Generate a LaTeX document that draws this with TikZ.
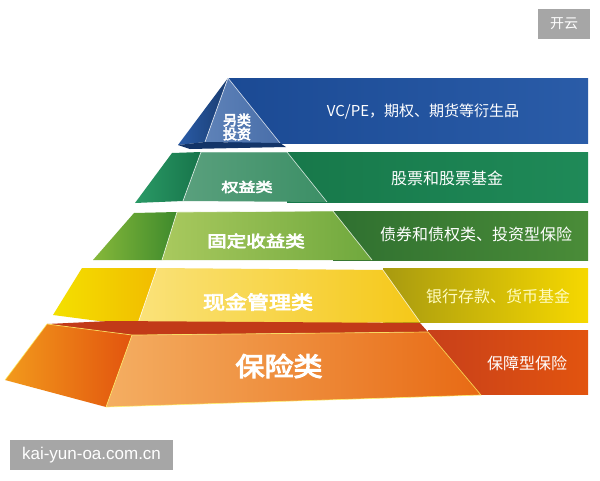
\documentclass[tikz,border=0pt]{standalone}
\usepackage{fontspec}
\newfontfamily\cjk{Noto Sans CJK SC}
\newfontfamily\cjkb[FakeBold=4]{Noto Sans CJK SC}
\newfontfamily\wmfont{Liberation Sans}
\usetikzlibrary{calc}
\definecolor{bluebandA}{HTML}{1B4A94}
\definecolor{bluebandB}{HTML}{2A5CA8}
\definecolor{bluefront}{HTML}{5E82B8}
\definecolor{blueleft}{HTML}{2456A0}
\definecolor{dgband}{HTML}{17784A}
\definecolor{dgbandB}{HTML}{1F8A58}
\definecolor{dgfront}{HTML}{3C8F66}
\definecolor{dgleftA}{HTML}{2A9A66}
\definecolor{dgleftB}{HTML}{17744A}
\definecolor{lgband}{HTML}{4A8C38}
\definecolor{lgbandB}{HTML}{2F7030}
\definecolor{lgfrontA}{HTML}{A9C95E}
\definecolor{lgfrontB}{HTML}{6FA83D}
\definecolor{lgleftA}{HTML}{86B83A}
\definecolor{lgleftB}{HTML}{3E8A2C}
\definecolor{ybandA}{HTML}{A89A10}
\definecolor{ybandB}{HTML}{F6D800}
\definecolor{yfrontA}{HTML}{FAE27A}
\definecolor{yfrontB}{HTML}{F5C818}
\definecolor{yleftA}{HTML}{F3E000}
\definecolor{yleftB}{HTML}{F2BC00}
\definecolor{oband}{HTML}{E2540F}
\definecolor{obandB}{HTML}{C8401A}
\definecolor{ofrontA}{HTML}{F4AE62}
\definecolor{ofrontB}{HTML}{E86A14}
\definecolor{oleftA}{HTML}{F29A1C}
\definecolor{oleftB}{HTML}{E2540E}
\definecolor{ostrip}{HTML}{C23A18}
\definecolor{wmgray}{HTML}{A6A6A6}
\tikzset{
  edge/.style={draw=white, draw opacity=0.75, line width=0.7pt},
  lab/.style={text=white, inner sep=0pt, font=\cjkb},
  rtxt/.style={text=white, inner sep=0pt, font=\cjk\fontsize{15}{18}\selectfont},
  tagbox/.style={fill=wmgray, inner sep=0pt}
}
\begin{document}
\begin{tikzpicture}[x=1pt,y=-1pt]
\useasboundingbox (0,0) rectangle (600,480);
\fill[white] (0,0) rectangle (600,480);

% ---------- blue layer ----------
\shade[left color=bluebandA, right color=bluebandB] (228,78) rectangle (588,143);
\shade[left color=bluebandB, right color=blueleft!70!black] (228,78) -- (205,142) -- (178,145) -- cycle;
\shade[left color=bluefront, right color=bluebandA!80!white] (228,78) -- (280,143) -- (205,142) -- cycle;
\draw[edge] (205,142) -- (228,78) -- (280,143);
\fill[bluebandA!70!black] (178,145) -- (205,142) -- (280,143) -- (286,147) -- (190,149) -- cycle;

% ---------- dark green layer ----------
\shade[left color=dgband, right color=dgbandB] (287,152) rectangle (588,202);
\shade[left color=dgleftA, right color=dgleftB] (172,153) -- (201,152) -- (183,201) -- (135,203) -- cycle;
\shade[left color=dgfront!85!white, right color=dgfront] (201,152) -- (287,152) -- (327,202) -- (183,201) -- cycle;
\draw[edge] (183,201) -- (201,152) -- (287,152) -- (327,202);

% ---------- light green layer ----------
\shade[left color=lgbandB, right color=lgband] (333,211) rectangle (588,260);
\shade[left color=lgleftA, right color=lgleftB] (134,213) -- (177,212) -- (162,260) -- (93,260) -- cycle;
\shade[left color=lgfrontA, right color=lgfrontB] (177,212) -- (333,211) -- (372,260) -- (162,260) -- cycle;
\draw[edge] (162,260) -- (177,212) -- (333,211) -- (372,260);

% ---------- yellow layer ----------
\shade[left color=ybandA, right color=ybandB] (383,268) rectangle (588,322);
\shade[left color=yleftA, right color=yleftB] (82,268) -- (157,268) -- (137,326) -- (53,315) -- cycle;
\shade[left color=yfrontA, right color=yfrontB] (157,268) -- (383,270) -- (420,322) -- (137,326) -- cycle;
\draw[edge] (137,326) -- (157,268);
\draw[edge] (383,270) -- (420,322);

% ---------- orange layer ----------
\fill[ostrip] (47,324) -- (110,321) -- (420,323) -- (428,332) -- (132,335) -- cycle;
\shade[left color=obandB, right color=oband] (428,330) rectangle (588,394);
\shade[left color=oleftA, right color=oleftB] (47,324) -- (132,335) -- (106,407) -- (5,380) -- cycle;
\shade[left color=ofrontA, right color=ofrontB] (132,335) -- (428,332) -- (481,395) -- (106,407) -- cycle;
\draw[edge, draw=yellow!60!white] (106,407) -- (132,335) -- (428,332) -- (481,395) -- (106,407);
\draw[edge, draw=yellow!60!white] (5,380) -- (47,324) -- (132,335);

% ---------- labels ----------
\node[lab, align=center, font=\cjkb\fontsize{14}{12}\selectfont] (t1) at (237,127) {另类\\投资};
\node[rtxt] (r1) at (423,112) {VC/PE，期权、期货等衍生品};
\node[lab, font=\cjkb\fontsize{17}{18}\selectfont, yscale=0.78] (t2) at (247,187) {权益类};
\node[rtxt, font=\cjk\fontsize{16}{18}\selectfont] (r2) at (447,178) {股票和股票基金};
\node[lab, font=\cjkb\fontsize{19.5}{20}\selectfont, yscale=0.82] (t3) at (256,241) {固定收益类};
\node[rtxt, font=\cjk\fontsize{16}{18}\selectfont] (r3) at (476,234) {债券和债权类、投资型保险};
\node[lab, font=\cjkb\fontsize{22}{24}\selectfont, yscale=0.85] (t4) at (258,302) {现金管理类};
\node[rtxt, text=yellow!25!white, font=\cjk\fontsize{16}{18}\selectfont] (r4) at (498,296) {银行存款、货币基金};
\node[lab, font=\cjkb\fontsize{29}{32}\selectfont, yscale=0.9] (t5) at (279,366) {保险类};
\node[rtxt, font=\cjk\fontsize{16}{18}\selectfont] (r5) at (527,363) {保障型保险};

% ---------- tags ----------
\node[tagbox, minimum width=52pt, minimum height=30pt, text=white, font=\cjk\fontsize{14}{16}\selectfont] (kai) at (564,24) {开云};
\node[tagbox, minimum width=163pt, minimum height=30pt, text=white, font=\wmfont\fontsize{17}{20}\selectfont] (wm) at (91.5,455) {kai-yun-oa.com.cn};
\end{tikzpicture}
\end{document}
